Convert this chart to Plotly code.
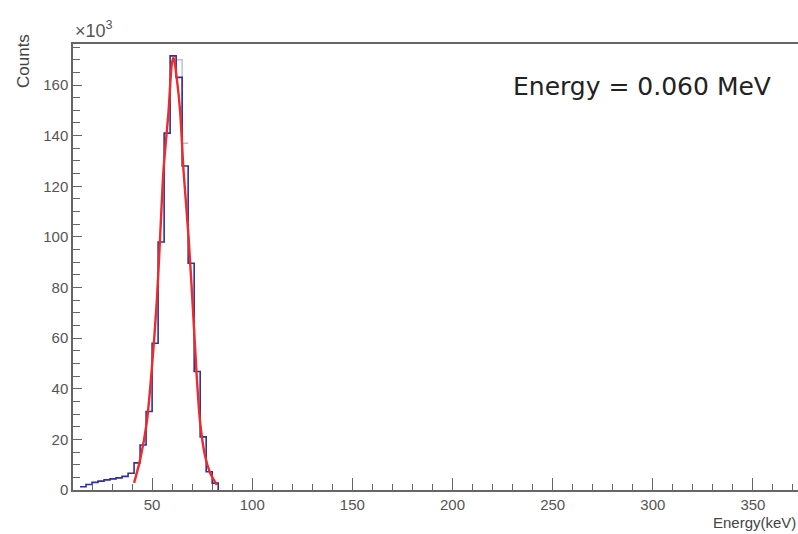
import plotly.graph_objects as go

# Histogram (bin edges in keV, counts in thousands)
bin_edges = [14, 17, 20, 23, 26, 29, 32, 35, 38, 41, 44, 47, 50, 53, 56, 59, 62, 65, 68, 71, 74, 77, 80, 83]
bin_counts = [1.3, 2.2, 3.0, 3.5, 4.0, 4.4, 4.8, 5.4, 6.6, 10.7, 17.8, 31.0, 58.0, 98.0, 141.0, 171.5, 163.0, 128.0, 89.6, 46.8, 21.0, 7.2, 2.7]

# Faint ghost histogram visible at the right of the peak (keV, thousands)
ghost_edges = [62, 65, 68]
ghost_counts = [170.0, 137.0]

# Fit curve (keV, counts in thousands)
fit_x = [41, 44, 47.3, 49.8, 52.3, 54, 55.7, 58.2, 59.8, 60.7, 62.3, 64, 65.7, 68.2, 70.7, 72.3, 74, 76.5, 79, 82.3]
fit_y = [2.8, 11.9, 26.5, 47.4, 74, 100, 126.5, 149.5, 168, 171, 162.7, 149.5, 126, 100, 67, 44.7, 26.5, 13.2, 6.7, 2.0]

x_ticks = [50, 100, 150, 200, 250, 300, 350]
y_ticks = [0, 20, 40, 60, 80, 100, 120, 140, 160]

step_x = bin_edges + [bin_edges[-1]]
step_y = bin_counts + [bin_counts[-1], 0]

fig = go.Figure()
fig.add_trace(go.Scatter(x=ghost_edges, y=ghost_counts + [ghost_counts[-1]], mode="lines",
                         line=dict(color="#b4bde8", width=1.4, shape="hv"),
                         hoverinfo="skip", showlegend=False))
fig.add_trace(go.Scatter(x=step_x, y=step_y, mode="lines", line=dict(color="#2f2f98", width=1.6, shape="hv"),
                         hoverinfo="skip", showlegend=False))
fig.add_trace(go.Scatter(x=fit_x, y=fit_y, mode="lines", line=dict(color="#ee2b2b", width=2.4, shape="spline", smoothing=0.8),
                         hoverinfo="skip", showlegend=False))

fig.update_layout(
    width=798, height=534,
    margin=dict(l=73, r=0, t=44, b=44),
    paper_bgcolor="white", plot_bgcolor="white",
    font=dict(family="Liberation Sans, Arial, sans-serif", size=15, color="#555555"),
    showlegend=False,
)
fig.update_xaxes(
    range=[10.5, 372.5], showgrid=False, zeroline=False,
    showline=True, linecolor="#666666", linewidth=1.5, mirror=True,
    ticks="inside", ticklen=12, tickwidth=1, tickcolor="#666666",
    tickvals=x_ticks, ticktext=[str(v) for v in x_ticks],
    minor=dict(ticks="inside", dtick=10, tick0=0, ticklen=6, tickcolor="#666666", showgrid=False),
    tickfont=dict(size=15, color="#555555"),
)
fig.update_yaxes(
    range=[0, 176.2], showgrid=False, zeroline=False,
    showline=True, linecolor="#666666", linewidth=1.5,
    ticks="inside", ticklen=9, tickwidth=1, tickcolor="#666666",
    tickvals=y_ticks, ticktext=[str(v) for v in y_ticks],
    minor=dict(ticks="inside", dtick=5, tick0=0, ticklen=7, tickcolor="#666666", showgrid=False),
    tickfont=dict(size=15, color="#555555"),
)

fig.add_annotation(text="Energy = 0.060 MeV", xref="paper", yref="paper", x=0.785, y=0.905,
                   xanchor="center", yanchor="middle", showarrow=False,
                   font=dict(family="DejaVu Sans", size=25, color="#222222"))
fig.add_annotation(text="×10<sup>3</sup>", xref="paper", yref="paper", x=0, y=1, xanchor="left", yanchor="bottom",
                   yshift=1, showarrow=False, font=dict(size=18, color="#555555"))
fig.add_annotation(text="Counts", xref="paper", yref="paper", x=0, y=1, xanchor="center", yanchor="top",
                   xshift=-50, yshift=12, textangle=-90, showarrow=False, font=dict(size=17, color="#444444"))
fig.add_annotation(text="Energy(keV)", xref="paper", yref="paper", x=1, y=0, xanchor="right", yanchor="top",
                   yshift=-22, showarrow=False, font=dict(size=15, color="#444444"))

fig.write_html("out.html")
